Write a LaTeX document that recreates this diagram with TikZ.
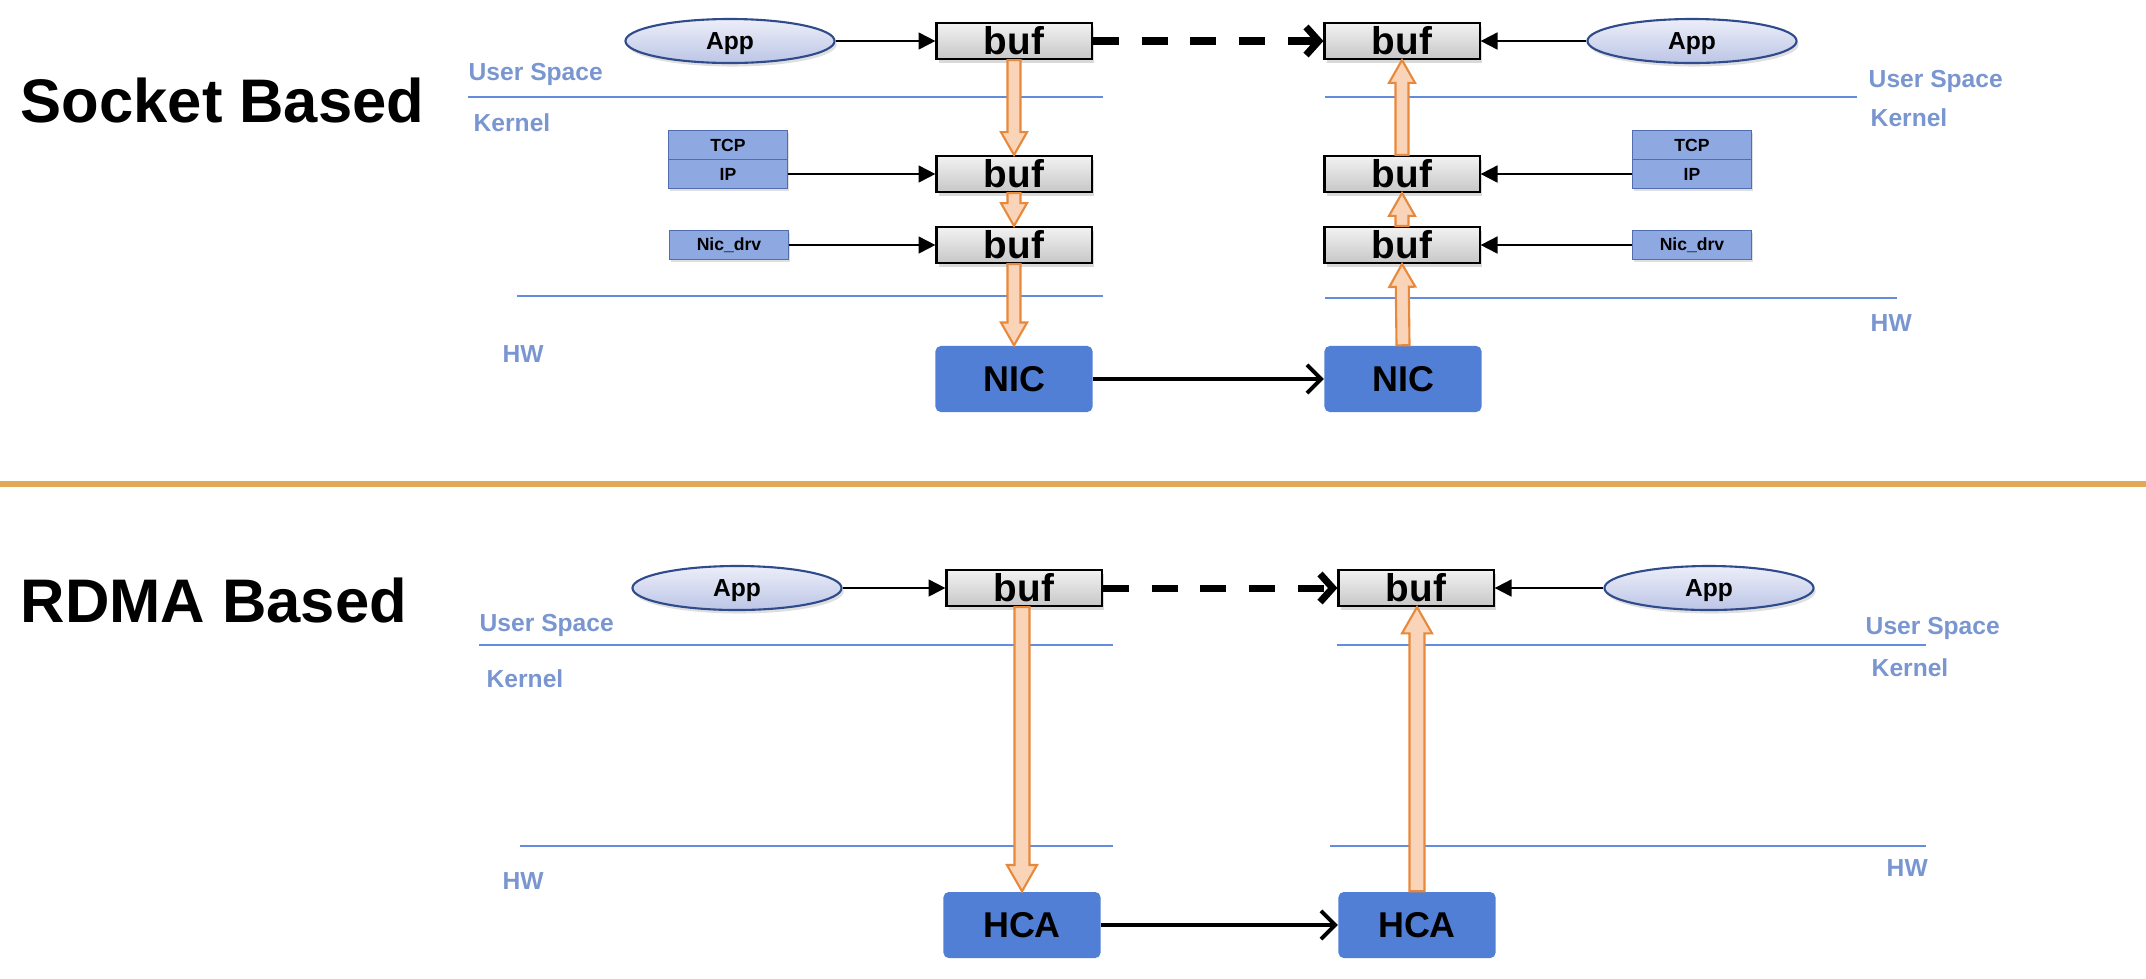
\documentclass[tikz,border=0pt]{standalone}
\usepackage{fontspec}
\setmainfont{Liberation Sans}
\usetikzlibrary{shapes.geometric,arrows.meta,shadows,calc}
\definecolor{labelblue}{RGB}{122,150,208}
\definecolor{lineblue}{RGB}{100,140,222}
\definecolor{appline}{RGB}{47,75,140}
\definecolor{apptop}{RGB}{236,238,248}
\definecolor{appbottom}{RGB}{188,197,230}
\definecolor{layerfill}{RGB}{142,169,225}
\definecolor{layerline}{RGB}{80,110,175}
\definecolor{hwfill}{RGB}{82,127,214}
\definecolor{arrowline}{RGB}{232,136,58}
\definecolor{arrowfill}{RGB}{250,212,184}
\definecolor{sepline}{RGB}{226,168,86}
\tikzset{
  app/.style={
    shape = ellipse,
    draw = appline,
    line width = 0.6pt,
    top color = apptop,
    bottom color = appbottom,
    minimum width = 2.09cm,
    minimum height = 0.44cm,
    inner sep = 0pt,
    text depth = 0pt,
    drop shadow = {opacity=0.25, shadow xshift=0.6pt, shadow yshift=-1pt},
    font = \bfseries\fontsize{7}{8}\selectfont
  },
  bufbox/.style={
    draw = black,
    line width = 0.6pt,
    top color = black!5,
    bottom color = black!22,
    minimum width = 1.55cm,
    minimum height = 0.36cm,
    inner sep = 0pt,
    drop shadow = {opacity=0.3, shadow xshift=0.6pt, shadow yshift=-1pt},
    font = \bfseries\fontsize{11}{12}\selectfont
  },
  layer/.style={
    draw = layerline,
    line width = 0.5pt,
    fill = layerfill,
    minimum width = 1.19cm,
    minimum height = 0.29cm,
    inner sep = 0pt,
    drop shadow = {opacity=0.25, shadow xshift=0.5pt, shadow yshift=-0.8pt},
    font = \bfseries\fontsize{5}{6}\selectfont
  },
  hwbox/.style={
    fill = hwfill,
    rounded corners = 1.5pt,
    minimum width = 1.57cm,
    minimum height = 0.66cm,
    inner sep = 0pt,
    font = \bfseries\fontsize{10.2}{12}\selectfont
  },
  spacelabel/.style={
    anchor = west,
    inner sep = 0pt,
    text = labelblue,
    font = \bfseries\fontsize{7}{8}\selectfont
  },
  title/.style={
    anchor = west,
    inner sep = 0pt,
    font = \bfseries\fontsize{17.5}{20}\selectfont
  },
  spaceline/.style={draw = lineblue, line width = 0.45pt},
  callarrow/.style={line width = 0.55pt, -{Triangle[length=4.8pt,width=4.8pt]}},
  wirearrow/.style={line width = 1.1pt, -{Straight Barb[length=4pt,width=8pt]}},
  dasharrow/.style={line width = 2pt, dash pattern = on 7.4pt off 6.5pt,
    -{Straight Barb[length=3.6pt,width=8pt]}},
  fatarrow/.style={draw = arrowline, fill = arrowfill, line width = 0.6pt, line join = miter}
}
% hollow block arrow from #2 to #3, #1 = half width of the shaft in cm
\newcommand{\fatarrow}[3][0.065]{%
  \pgfmathsetmacro{\fahw}{2*#1}%
  \pgfmathsetmacro{\fahl}{3.5*#1}%
  \coordinate (fa-base) at ($(#3)!\fahl cm!(#2)$);
  \draw[fatarrow] ($(#2)!#1cm!90:(#3)$) -- ($(fa-base)!#1cm!-90:(#2)$)
    -- ($(fa-base)!\fahw cm!-90:(#2)$) -- (#3) -- ($(fa-base)!\fahw cm!90:(#2)$)
    -- ($(fa-base)!#1cm!90:(#2)$) -- ($(#2)!#1cm!-90:(#3)$) -- cycle;}

\begin{document}
\begin{tikzpicture}[x=0.01cm, y=-0.01cm]
  \useasboundingbox (0,0) rectangle (2146,978);

  % ---------- socket based ----------
  \node[title] (socket) at (20,100) {Socket Based};

  \draw[spaceline] (468,97) -- (1103,97);
  \draw[spaceline] (1325,97) -- (1857,97);
  \draw[spaceline] (517,296) -- (1103,296);
  \draw[spaceline] (1325,298) -- (1897,298);
  \node[spacelabel] (usrL) at (468,74) {User Space};
  \node[spacelabel] (kerL) at (473,123) {Kernel};
  \node[spacelabel] (hwL) at (502,354) {HW};
  \node[spacelabel] (usrR) at (1868,81) {User Space};
  \node[spacelabel] (kerR) at (1870,118) {Kernel};
  \node[spacelabel] (hwR) at (1870,323) {HW};

  \node[app] (appL) at (730,41) {App};
  \node[bufbox] (bufLa) at (1014,41) {buf};
  \node[bufbox] (bufLb) at (1014,174) {buf};
  \node[bufbox] (bufLc) at (1014,245) {buf};
  \node[layer] (tcpL) at (728,145) {TCP};
  \node[layer] (ipL) at (728,174) {IP};
  \node[layer] (drvL) at (729,245) {Nic\_drv};
  \node[hwbox] (nicL) at (1014,379) {NIC};

  \node[app] (appR) at (1692,41) {App};
  \node[bufbox] (bufRa) at (1402,41) {buf};
  \node[bufbox] (bufRb) at (1402,174) {buf};
  \node[bufbox] (bufRc) at (1402,245) {buf};
  \node[layer] (tcpR) at (1692,145) {TCP};
  \node[layer] (ipR) at (1692,174) {IP};
  \node[layer] (drvR) at (1692,245) {Nic\_drv};
  \node[hwbox] (nicR) at (1403,379) {NIC};

  \draw[callarrow] (appL) -- (bufLa);
  \draw[callarrow] (ipL) -- (bufLb);
  \draw[callarrow] (drvL) -- (bufLc);
  \draw[callarrow] (appR) -- (bufRa);
  \draw[callarrow] (ipR) -- (bufRb);
  \draw[callarrow] (drvR) -- (bufRc);
  \draw[wirearrow] (nicL) -- (nicR);
  \draw[dasharrow] (bufLa) -- (bufRa);

  \fatarrow{bufLa.south}{bufLb.north}
  \fatarrow{bufLb.south}{bufLc.north}
  \fatarrow{bufLc.south}{nicL.north}
  \fatarrow{nicR.north}{bufRc.south}
  \fatarrow{bufRc.north}{bufRb.south}
  \fatarrow{bufRb.north}{bufRa.south}

  % separator
  \draw[sepline, line width = 1.6pt] (0,484) -- (2146,484);

  % ---------- rdma based ----------
  \node[title] (rdma) at (20,600) {RDMA Based};

  \draw[spaceline] (479,645) -- (1113,645);
  \draw[spaceline] (1337,645) -- (1926,645);
  \draw[spaceline] (520,846) -- (1113,846);
  \draw[spaceline] (1330,846) -- (1926,846);
  \node[spacelabel] (usrL2) at (479,625) {User Space};
  \node[spacelabel] (kerL2) at (486,679) {Kernel};
  \node[spacelabel] (hwL2) at (502,881) {HW};
  \node[spacelabel] (usrR2) at (1865,628) {User Space};
  \node[spacelabel] (kerR2) at (1871,668) {Kernel};
  \node[spacelabel] (hwR2) at (1886,868) {HW};

  \node[app] (appL2) at (737,588) {App};
  \node[bufbox] (bufL2) at (1024,588) {buf};
  \node[hwbox] (hcaL) at (1022,925) {HCA};
  \node[app] (appR2) at (1709,588) {App};
  \node[bufbox] (bufR2) at (1416,588) {buf};
  \node[hwbox] (hcaR) at (1417,925) {HCA};

  \draw[callarrow] (appL2) -- (bufL2);
  \draw[callarrow] (appR2) -- (bufR2);
  \draw[wirearrow] (hcaL) -- (hcaR);
  \draw[dasharrow] (bufL2) -- (bufR2);

  \fatarrow[0.075]{bufL2.south -| hcaL.north}{hcaL.north}
  \fatarrow[0.075]{hcaR.north}{bufR2.south -| hcaR.north}
\end{tikzpicture}
\end{document}
